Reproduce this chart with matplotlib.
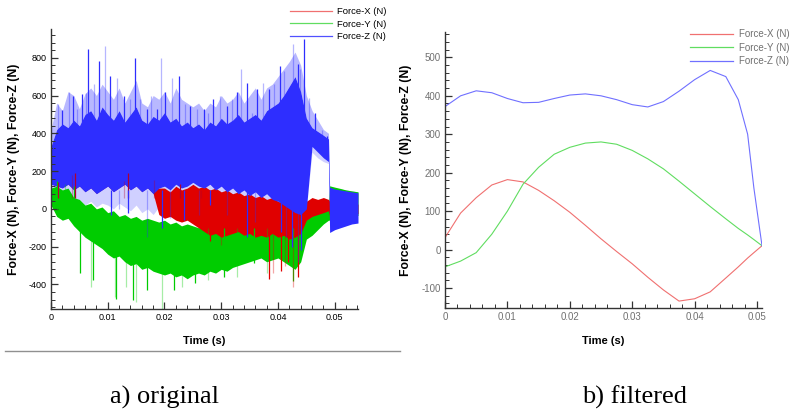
import matplotlib
matplotlib.use('Agg')
import matplotlib.pyplot as plt
from matplotlib.lines import Line2D
from matplotlib.colors import to_rgba
from matplotlib.ticker import MultipleLocator, FuncFormatter

plt.rcParams['font.family'] = ['Liberation Sans', 'DejaVu Sans']
plt.rcParams['axes.unicode_minus'] = False

# ---- a) original signal: envelope of the dense noise ----
t_band = [0, .001, .002, .003, .004, .005, .006, .007, .008, .009,
          .010, .011, .012, .013, .014, .015, .016, .017, .018, .019,
          .020, .021, .022, .023, .024, .025, .026, .027, .028, .029,
          .030, .031, .032, .033, .034, .035, .036, .037, .038, .039,
          .040, .041, .042, .043, .044, .045, .046, .047, .048,
          .0489, .0491, .050, .051, .052, .053, .0541]

# Force-Z: faint upper fringe, solid part, faint lower fringe
z_top = [420, 560, 520, 620, 600, 530, 610, 640, 600, 660,
         620, 580, 640, 560, 620, 680, 560, 540, 600, 580,
         620, 560, 640, 580, 560, 540, 560, 520, 560, 540,
         600, 560, 580, 620, 560, 600, 640, 580, 640, 660,
         700, 740, 780, 830, 760, 600, 520, 470, 420,
         400, 120, 110, 105, 100, 95, 90]
z_hi = [330, 420, 450, 430, 470, 440, 500, 520, 470, 540,
        500, 470, 520, 460, 500, 540, 470, 450, 490, 470,
        510, 460, 480, 440, 460, 430, 450, 420, 460, 440,
        480, 450, 470, 500, 460, 480, 500, 470, 520, 540,
        560, 600, 650, 700, 620, 480, 430, 410, 390,
        370, 115, 105, 100, 95, 90, 85]
z_lo = [130, 120, 110, 130, 100, 120, 90, 110, 80, 100,
        120, 90, 110, 130, 100, 120, 90, 110, 80, 110,
        120, 100, 130, 110, 120, 140, 120, 110, 130, 100,
        120, 90, 110, 80, 100, 70, 90, 60, 80, 50,
        40, 20, 0, -20, -30, 0, 330, 300, 270,
        250, -125, -110, -100, -90, -80, -75]
z_faint = [80, 60, 50, 70, 40, 50, 20, 40, 10, 30,
           20, 0, 30, 10, -10, 20, -20, 0, -30, 10,
           20, 0, 40, 20, 30, 60, 40, 20, 50, 30,
           40, 10, 30, 0, 20, -10, 10, -20, 0, -10,
           -20, -30, -40, -50, -60, 0, 300, 270, 250,
           240, -125, -110, -100, -90, -80, -75]

# Force-Y
y_hi = [110, 120, 100, 110, 60, 50, 20, 30, 0, 10,
        -20, -10, -40, -30, -50, -40, -60, -50, -60, -70,
        -60, -80, -70, -90, -80, -90, -100, -90, -110, -100,
        -120, -110, -100, -90, -100, -80, -70, -60, -70, -50,
        -60, -40, -30, -20, -10, 0, -20, -10, 0,
        10, 122, 115, 108, 100, 95, 90]
y_lo = [20, -40, -60, -50, -90, -120, -150, -170, -190, -210,
        -240, -260, -250, -280, -300, -290, -320, -310, -330, -340,
        -350, -340, -360, -350, -370, -350, -340, -350, -330, -340,
        -320, -330, -310, -300, -290, -280, -270, -260, -280, -270,
        -260, -280, -300, -320, -280, -160, -140, -110, -80,
        -60, -60, -55, -50, -45, -40, -35]

# Force-X (before 0.019 s it sits behind Force-Z)
x_hi = [150, 140, 130, 150, 120, 140, 110, 130, 100, 120,
        140, 110, 130, 150, 120, 140, 110, 130, 100, 110,
        110, 90, 120, 100, 110, 130, 110, 120, 100, 110,
        90, 100, 80, 90, 70, 80, 60, 70, 50, 60,
        40, 30, 20, 10, 0, 40, 60, 50, 60,
        50, 40, 35, 30, 30, 25, 25]
x_lo = [132, 122, 112, 132, 102, 122, 92, 112, 82, 102,
        122, 92, 112, 132, 102, 122, 92, 112, 82, -30,
        -50, -40, -60, -70, -60, -80, -100, -120, -140, -130,
        -150, -140, -130, -120, -140, -130, -150, -140, -150, -130,
        -150, -140, -160, -150, -130, -60, -40, -30, -20,
        -10, -40, -35, -30, -30, -25, -25]

# spikes sticking out of the bands
z_spk_t = [.0004, .0013, .0019, .0032, .0038, .0046, .0054, .0061, .0066, .0075,
           .0085, .0095, .0104, .0116, .0128, .0139, .0148, .0157, .0169, .0177,
           .0186, .0194, .0201, .0214, .0226, .0236, .0245, .0257, .0269, .0277,
           .0286, .0298, .0310, .0319, .0327, .0335, .0345, .0354, .0363, .0374,
           .0385, .0393, .0403, .0411, .0419, .0427, .0435, .0439, .0446, .0454,
           .0466, .0477, .0486]
z_spk_v = [305, 553, 521, 616, 598, 526, 606, 615, 846, 660, 784, 863, 704, 695,
           598, 580, 801, 580, 526, 598, 526, 801, 616, 695, 704, 553, 544, 526,
           526, 508, 580, 598, 544, 580, 616, 740, 668, 508, 634, 668, 634, 660,
           757, 730, 616, 872, 766, 740, 899, 589, 508, 420, 384]
z_dn_t = [.0105, .012, .0135, .017, .0195, .021, .0235, .026, .028, .031,
          .0345, .036, .0405, .0415, .0425, .0435, .044]
z_dn_v = [-30, 0, -20, -150, -100, -50, -60, -30, 20, -30, -150, -70, -120,
          -150, -200, -280, -220]

y_spk_t = [.0051, .0071, .0074, .0112, .0115, .0133, .0144, .0150, .0169, .0195,
           .0216, .0230, .0254, .0277, .0304, .0327, .0357, .0380, .0427]
y_spk_v = [-342, -413, -378, -466, -475, -413, -484, -493, -431, -528, -431,
           -413, -395, -378, -360, -360, -289, -342, -380]
y_up_t = [.0010, .0025, .0040]
y_up_v = [150, 130, 120]

x_up_t = [.0012, .0037, .0042, .0128, .0136, .0181, .0228, .0265]
x_up_v = [140, 180, 190, 150, 190, 155, 130, 100]
x_dn_t = [.0280, .0300, .0385, .0392, .0405, .0412, .0418, .0427, .0436]
x_dn_v = [-170, -190, -370, -342, -330, -300, -280, -413, -360]

# ---- b) filtered signal ----
t_f = [0, .0025, .005, .0075, .01, .0125, .015, .0175, .02, .0225, .025, .0275,
       .03, .0325, .035, .0375, .04, .0425, .045, .047, .0485, .0495, .0508]
fx = [31, 95, 135, 168, 182, 176, 154, 127, 97, 63, 28, -5, -37, -72, -105,
      -134, -128, -110, -74, -45, -22, -8, 10]
fy = [-45, -30, -8, 40, 100, 170, 214, 248, 266, 277, 280, 274, 258, 236, 210,
      178, 145, 112, 80, 55, 38, 26, 10]
fz = [372, 400, 413, 408, 393, 382, 383, 393, 402, 405, 400, 390, 377, 371,
      385, 412, 442, 466, 450, 390, 300, 160, 10]

labels = ['Force-X (N)', 'Force-Y (N)', 'Force-Z (N)']

W, H = 792, 409
fig = plt.figure(figsize=(W / 100, H / 100), dpi=100)
ax1 = fig.add_axes([51 / W, 1 - 309 / H, 307 / W, 280 / H])
ax2 = fig.add_axes([445 / W, 1 - 308 / H, 317 / W, 276 / H])

RED, GREEN, BLUE = '#e00000', '#00cc00', '#2e2eff'


def spikes(ax, ts, vs, base, color):
    cols = [to_rgba(color, 1.0 if i % 2 == 0 else 0.35) for i in range(len(ts))]
    ax.vlines(ts, base, vs, colors=cols, lw=0.9)


def band(ax, lo, hi, color):
    ax.fill_between(t_band, lo, hi, color=color, lw=0)


band(ax1, z_faint, z_lo, '#d0d0ff')
band(ax1, z_hi, z_top, '#b8b8ff')
band(ax1, y_lo, y_hi, GREEN)
spikes(ax1, y_spk_t, y_spk_v, -100, GREEN)
spikes(ax1, y_up_t, y_up_v, 0, GREEN)
band(ax1, x_lo, x_hi, RED)
spikes(ax1, x_up_t, x_up_v, 60, '#b00030')
spikes(ax1, x_dn_t, x_dn_v, -100, RED)
band(ax1, z_lo, z_hi, BLUE)
spikes(ax1, z_spk_t, z_spk_v, 350, BLUE)
spikes(ax1, z_dn_t, z_dn_v, 100, BLUE)

ax2.plot(t_f, fx, color='#f07070', lw=0.8)
ax2.plot(t_f, fy, color='#60dd60', lw=0.8)
ax2.plot(t_f, fz, color='#7070ff', lw=0.8)

ax1.set_xlim(0, 0.0541)
ax1.set_ylim(-530, 952)
ax2.set_xlim(0, 0.0508)
ax2.set_ylim(-152, 566)

fmt = FuncFormatter(lambda v, p: '%g' % round(v, 4))
for ax, ymaj, ymin, tc, ls, pad in [(ax1, 200, 40, 'black', 6.5, 6),
                                    (ax2, 100, 20, '#707070', 7, 7)]:
    for s in ['top', 'right']:
        ax.spines[s].set_visible(False)
    for s in ['left', 'bottom']:
        ax.spines[s].set_color('#333333')
        ax.spines[s].set_linewidth(1.0)
    ax.xaxis.set_major_locator(MultipleLocator(0.01))
    ax.xaxis.set_minor_locator(MultipleLocator(0.002))
    ax.yaxis.set_major_locator(MultipleLocator(ymaj))
    ax.yaxis.set_minor_locator(MultipleLocator(ymin))
    ax.xaxis.set_major_formatter(fmt)
    ax.yaxis.set_major_formatter(fmt)
    ax.tick_params(which='both', direction='in', colors='#333333',
                   labelcolor=tc, labelsize=ls, pad=3)
    ax.tick_params(which='major', length=5, width=0.9)
    ax.tick_params(which='minor', length=3, width=0.7)
    ax.set_xlabel('Time (s)', fontsize=8, fontweight='bold', labelpad=10)
    ax.set_ylabel(', '.join(labels), fontsize=8.8, fontweight='bold',
                  labelpad=pad)

# legends
h1 = [Line2D([], [], color=c, lw=0.9) for c in ['#f07070', '#60dd60', '#5050ff']]
ax1.legend(h1, labels, loc='upper left', bbox_to_anchor=(290 / W, 1 - 7 / H),
           bbox_transform=fig.transFigure, frameon=False, fontsize=6.8,
           handlelength=4.4, handletextpad=0.6, labelspacing=0.38,
           borderpad=0, borderaxespad=0)
h2 = [Line2D([], [], color=c, lw=0.9) for c in ['#f07070', '#60dd60', '#7070ff']]
ax2.legend(h2, labels, loc='upper left', bbox_to_anchor=(690 / W, 1 - 29 / H),
           bbox_transform=fig.transFigure, frameon=False, fontsize=7,
           handlelength=4.4, handletextpad=0.6, labelspacing=0.38,
           borderpad=0, borderaxespad=0, labelcolor='#707070')

# separator line and captions
fig.add_artist(Line2D([5 / W, 400 / W], [1 - 351 / H] * 2, color='#909090',
                      lw=1.0))
fig.text(165 / W, 1 - 397 / H, 'a) original', family='Liberation Serif',
         fontsize=19, ha='center', va='center')
fig.text(635 / W, 1 - 397 / H, 'b) filtered', family='Liberation Serif',
         fontsize=19, ha='center', va='center')

fig.savefig('out.png', dpi=100)
